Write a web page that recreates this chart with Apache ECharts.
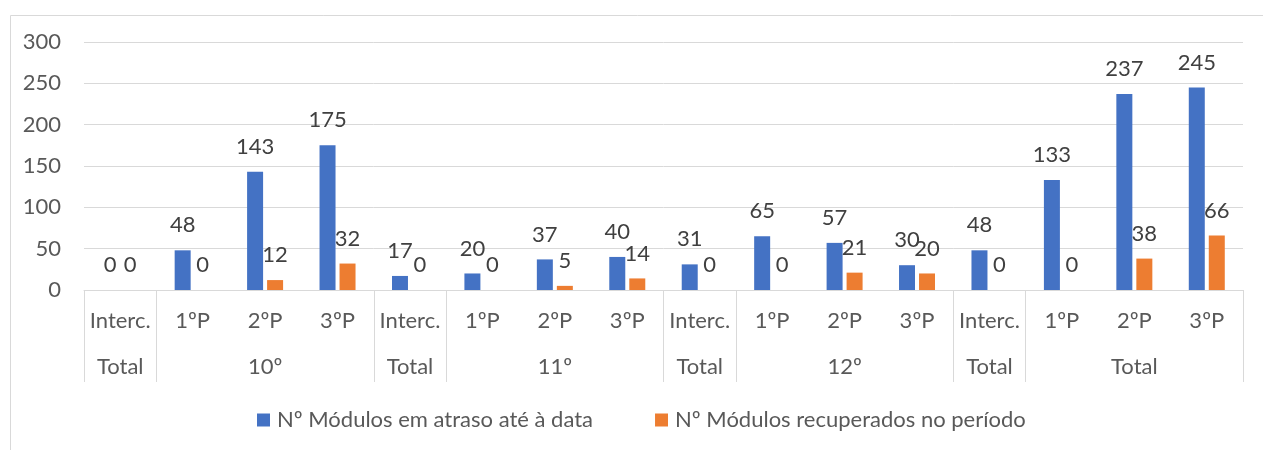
<!DOCTYPE html>
<html>
<head>
<meta charset="utf-8">
<script src="https://cdn.jsdelivr.net/npm/echarts@6/dist/echarts.min.js"></script>
<style>
html,body{margin:0;padding:0;background:#fff;}
#c{width:1263px;height:450px;}
</style>
</head>
<body>
<div id="c"></div>
<script>
const categories = ['Interc.','1ºP','2ºP','3ºP','Interc.','1ºP','2ºP','3ºP','Interc.','1ºP','2ºP','3ºP','Interc.','1ºP','2ºP','3ºP'];
const groupLabels = ['Total','','10º','','Total','','11º','','Total','','12º','','Total','','Total',''];
const groupStarts = [0,1,4,5,8,9,12,13];
const seriesNames = ['Nº Módulos em atraso até à data','Nº Módulos recuperados no período'];
const atraso = [0,48,143,175,17,20,37,40,31,65,57,30,48,133,237,245];
const recuperados = [0,0,12,32,0,0,5,14,0,0,21,20,0,0,38,66];

const FONT = 'Lato';
const chart = echarts.init(document.getElementById('c'), null, {renderer:'canvas'});
const labelStyle = {show:true, position:'top', distance:14, color:'#404040', fontSize:22, fontFamily:FONT};
chart.setOption({
  animation:false,
  textStyle:{fontFamily:FONT},
  graphic:[{type:'rect', left:8, top:13, shape:{width:1300, height:500}, style:{fill:'none', stroke:'#d9d9d9', lineWidth:1}, silent:true}],
  grid:{left:84, right:20, top:42, bottom:160},
  legend:{
    left:257, top:409, padding:0, icon:'rect', itemWidth:13, itemHeight:13, itemGap:62,
    textStyle:{color:'#595959', fontSize:22, fontFamily:FONT, padding:[0,0,0,2]},
    data:seriesNames
  },
  xAxis:[
    {type:'category', data:categories, position:'bottom',
     axisLine:{show:true, lineStyle:{color:'#d9d9d9', width:1}},
     axisTick:{show:true, length:92, interval:function(i){return groupStarts.indexOf(i)>=0;}, lineStyle:{color:'#d9d9d9', width:1}},
     axisLabel:{interval:0, margin:20, color:'#595959', fontSize:22, fontFamily:FONT}},
    {type:'category', data:groupLabels, position:'bottom', gridIndex:0,
     axisLine:{show:false}, axisTick:{show:false},
     axisLabel:{interval:0, margin:66, color:'#595959', fontSize:22, fontFamily:FONT}}
  ],
  yAxis:{type:'value', min:0, max:300, interval:50,
    axisLine:{show:false}, axisTick:{show:false},
    axisLabel:{margin:23, color:'#595959', fontSize:22, fontFamily:FONT},
    splitLine:{lineStyle:{color:'#d9d9d9', width:1}}},
  series:[
    {name:seriesNames[0], type:'bar', data:atraso, barWidth:16, barGap:'25%', itemStyle:{color:'#4472C4'}, label:labelStyle},
    {name:seriesNames[1], type:'bar', data:recuperados, barWidth:16, barGap:'25%', itemStyle:{color:'#ED7D31'}, label:labelStyle}
  ]
});
</script>
</body>
</html>
